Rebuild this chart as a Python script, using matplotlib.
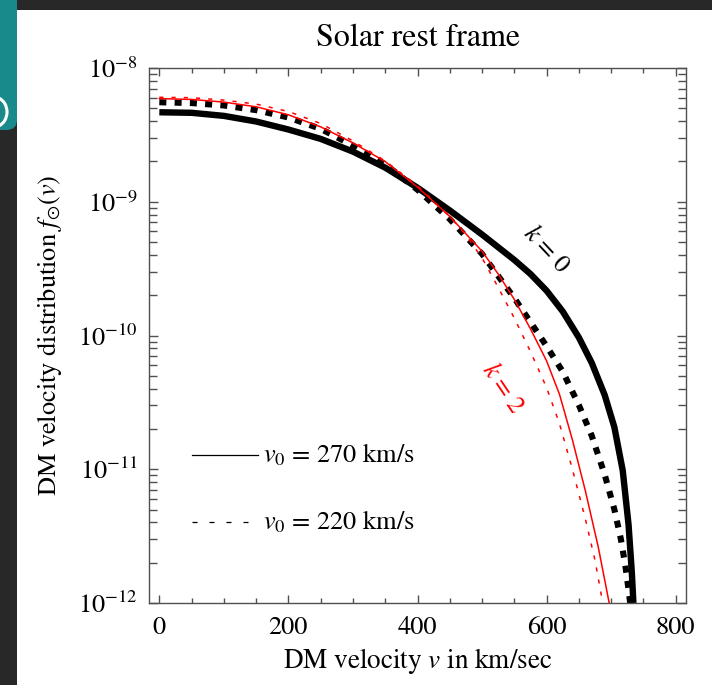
import matplotlib
matplotlib.use("Agg")
import numpy as np
import matplotlib.pyplot as plt
from matplotlib.patches import Rectangle, FancyBboxPatch, Arc
from matplotlib.lines import Line2D
from matplotlib.ticker import MultipleLocator, LogLocator, NullFormatter, FixedLocator

plt.rcParams['font.family'] = ['STIXGeneral', 'DejaVu Serif']
plt.rcParams['mathtext.fontset'] = 'stix'

# Speed grid (km/s) and log10 of the distribution f(v) for each curve
v_k0_v270 = [0, 50, 100, 150, 200, 250, 300, 350, 400, 450, 500, 550, 575, 600, 625, 650, 670,
             690, 705, 718, 727, 732, 734.5]
logf_k0_v270 = [-8.331, -8.335, -8.358, -8.40, -8.46, -8.53, -8.625, -8.745, -8.895, -9.065,
                -9.245, -9.435, -9.54, -9.665, -9.82, -10.015, -10.205, -10.445, -10.685,
                -11.01, -11.415, -11.765, -12.0]

v_k0_v220 = [0, 50, 100, 150, 200, 250, 300, 350, 400, 450, 500, 550, 600, 625, 650, 670, 690,
             705, 715, 722, 727, 729.5]
logf_k0_v220 = [-8.256, -8.262, -8.28, -8.315, -8.37, -8.455, -8.58, -8.72, -8.91, -9.13, -9.39,
                -9.72, -10.08, -10.27, -10.52, -10.75, -11.04, -11.30, -11.52, -11.72, -11.90,
                -12.0]

v_k2_v270 = [0, 50, 100, 150, 200, 250, 300, 350, 400, 450, 500, 525, 550, 575, 600, 620, 640,
             660, 680, 697]
logf_k2_v270 = [-8.229, -8.235, -8.255, -8.29, -8.35, -8.44, -8.56, -8.70, -8.89, -9.11, -9.37,
                -9.54, -9.73, -9.95, -10.19, -10.44, -10.78, -11.16, -11.58, -12.0]

v_k2_v220 = [0, 50, 100, 150, 200, 250, 300, 350, 400, 450, 475, 500, 525, 550, 575, 600, 620,
             640, 660, 675, 687]
logf_k2_v220 = [-8.219, -8.222, -8.24, -8.27, -8.325, -8.415, -8.545, -8.695, -8.88, -9.11,
                -9.25, -9.42, -9.64, -9.87, -10.12, -10.39, -10.66, -11.0, -11.37, -11.68, -12.0]

x_major = [0, 200, 400, 600, 800]
y_major = [1e-12, 1e-11, 1e-10, 1e-9, 1e-8]
y_labels = [r'$10^{-12}$', r'$10^{-11}$', r'$10^{-10}$', r'$10^{-9}$', r'$10^{-8}$']
legend_labels = [r'$v_0$ = 270 km/s', r'$v_0$ = 220 km/s']

W, H = 712, 685
fig = plt.figure(figsize=(W / 100, H / 100), dpi=100)
fig.patch.set_facecolor('#282828')

# white slide area and the teal tab at the upper left
fig.add_artist(Rectangle((17 / W, 0), 1 - 17 / W, (H - 10) / H, transform=fig.transFigure,
                         facecolor='white', edgecolor='none', zorder=0))
fig.add_artist(FancyBboxPatch((-20 / W, (H - 130) / H), 37 / W, 160 / H,
                              boxstyle="round,pad=0,rounding_size=0.015",
                              transform=fig.transFigure, facecolor='#198a8c',
                              edgecolor='none', zorder=0))
fig.add_artist(Arc((-6 / W, (H - 112) / H), 26 / W, 30 / H, transform=fig.transFigure,
                   theta1=-70, theta2=70, color='white', lw=2.2, zorder=1))

ax = fig.add_axes([149 / W, (H - 603) / H, (686 - 149) / W, (603 - 68) / H])
ax.set_yscale('log')
ax.set_xlim(-16, 816)
ax.set_ylim(1e-12, 1e-8)

ax.plot(v_k2_v270, np.power(10.0, logf_k2_v270), color='red', lw=1.1, zorder=3)
ax.plot(v_k2_v220, np.power(10.0, logf_k2_v220), color='red', lw=1.1,
        linestyle=(0, (2.7, 5.3)), zorder=3)
ax.plot(v_k0_v270, np.power(10.0, logf_k0_v270), color='black', lw=4.6,
        solid_capstyle='butt', solid_joinstyle='round', zorder=2)
ax.plot(v_k0_v220, np.power(10.0, logf_k0_v220), color='black', lw=4.4,
        linestyle=(0, (1.15, 1.35)), zorder=2)

# frame and ticks
for s in ax.spines.values():
    s.set_color('#505050')
    s.set_linewidth(1.0)
ax.xaxis.set_major_locator(FixedLocator(x_major))
ax.xaxis.set_minor_locator(MultipleLocator(50))
ax.yaxis.set_major_locator(FixedLocator(y_major))
ax.set_yticklabels(y_labels)
ax.yaxis.set_minor_locator(LogLocator(base=10, subs=range(2, 10), numticks=20))
ax.yaxis.set_minor_formatter(NullFormatter())
ax.tick_params(which='both', direction='in', top=True, right=True, color='#505050', width=1.0)
ax.tick_params(axis='x', which='major', length=6, pad=9, labelsize=19)
ax.tick_params(axis='x', which='minor', length=3.5)
ax.tick_params(axis='y', which='major', length=6.5, pad=8, labelsize=19)
ax.tick_params(axis='y', which='minor', length=5.5)

ax.set_title('Solar rest frame', fontsize=23, pad=16)
ax.set_xlabel(r'DM velocity $v$ in km/sec', fontsize=19.5, labelpad=5)
ax.set_ylabel(r'DM velocity distribution $f_{\odot}(v)$', fontsize=19, labelpad=10)

# curve labels
ax.text(599, 10 ** -9.36, r'$k$ = 0', rotation=-47, fontsize=18.5, color='black',
        ha='center', va='center', rotation_mode='anchor')
ax.text(531, 10 ** -10.40, r'$k$ = 2', rotation=-56, fontsize=18.5, color='red',
        ha='center', va='center', rotation_mode='anchor')

# legend
ax.add_line(Line2D([0.080, 0.203], [0.277, 0.277], transform=ax.transAxes, color='black', lw=0.9))
ax.add_line(Line2D([0.080, 0.184], [0.151, 0.151], transform=ax.transAxes, color='black', lw=0.9,
                   linestyle=(0, (4, 9.6))))
ax.text(0.212, 0.277, legend_labels[0], transform=ax.transAxes, fontsize=19, va='center', ha='left')
ax.text(0.212, 0.151, legend_labels[1], transform=ax.transAxes, fontsize=19, va='center', ha='left')

fig.savefig('out.png', dpi=100, facecolor=fig.get_facecolor())
